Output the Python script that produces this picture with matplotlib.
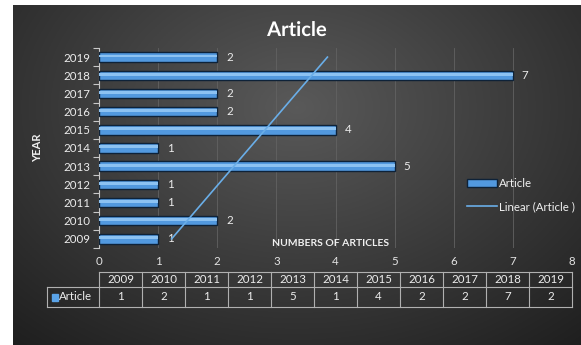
import numpy as np
import matplotlib.pyplot as plt
import matplotlib.patheffects as pe

plt.rcParams['font.family'] = ['Lato', 'DejaVu Sans']

years = ['2009', '2010', '2011', '2012', '2013', '2014', '2015', '2016', '2017', '2018', '2019']
articles = [1, 2, 1, 1, 5, 1, 4, 2, 2, 7, 2]
x_ticks = [0, 1, 2, 3, 4, 5, 6, 7, 8]

W, H = 581, 345
fs = 8.3
fig = plt.figure(figsize=(W / 100, H / 100), dpi=100)
fig.patch.set_facecolor('white')

# dark radial background (Excel chart style)
bg = fig.add_axes([13 / W, 0, 1 - 13 / W, 1 - 5 / H])
gx, gy = np.meshgrid(np.linspace(0, 1, 300), np.linspace(0, 1, 200))
r = np.sqrt(((gx - 0.5) / 0.7) ** 2 + ((gy - 0.3) / 0.85) ** 2)
shade = np.clip(0.35 - 0.21 * r, 0.11, 0.35)
bg.imshow(np.dstack([shade] * 3), aspect='auto', extent=[0, 1, 1, 0])
bg.axis('off')

# main bar chart
ax = fig.add_axes([99 / W, (H - 248) / H, 473 / W, 200 / H])
ax.set_facecolor('none')
ypos = np.arange(len(years))
bars = ax.barh(ypos, articles, height=0.52, color='#5299df', edgecolor='#0e2238', linewidth=1.0, zorder=3,
               label='Article')
ax.barh(ypos + 0.06, articles, height=0.16, color='#8cc2f2', linewidth=0, zorder=4)
for y, v in zip(ypos, articles):
    ax.text(v + 0.15, y, str(v), color='#ededed', fontsize=fs, va='center', ha='left', zorder=5)

# linear trendline like Excel
coef = np.polyfit(ypos + 1, articles, 1)
trend = np.polyval(coef, ypos + 1)
line, = ax.plot(trend, ypos, color='#6aaee8', linewidth=1.2, zorder=6, label='Linear (Article )')

ax.set_xlim(0, 8)
ax.set_ylim(-0.5, len(years) - 0.5)
ax.set_xticks(x_ticks)
ax.set_xticklabels([str(t) for t in x_ticks])
ax.tick_params(axis='x', length=0, pad=6, colors='#e3e3e3', labelsize=fs)
ax.set_yticks(ypos)
ax.set_yticklabels(years)
ax.tick_params(axis='y', length=0, pad=6, colors='#ededed', labelsize=fs)
ax.set_yticks(np.arange(-0.5, len(years)), minor=True)
ax.tick_params(axis='y', which='minor', length=4, color='#c8c8c8', width=0.8)
ax.grid(axis='x', color='#626262', linewidth=0.6, zorder=0)
for s in ['top', 'right', 'bottom']:
    ax.spines[s].set_visible(False)
ax.spines['left'].set_color('#c8c8c8')
ax.spines['left'].set_linewidth(0.8)

ax.text(0.49, 0.025, 'NUMBERS OF ARTICLES', transform=ax.transAxes, ha='center', va='center',
        color='#f0f0f0', fontsize=7.5, fontweight='bold')
fig.text(38 / W, 1 - 148 / H, 'YEAR', rotation=90, ha='center', va='center',
         color='#f0f0f0', fontsize=8, fontweight='bold')
fig.text(297 / W, 1 - 30 / H, 'Article', ha='center', va='center', color='white', fontsize=14.5,
         fontweight='bold', path_effects=[pe.withSimplePatchShadow(offset=(1, -1), alpha=0.8)])

ax.legend(handles=[bars, line], loc='upper left', bbox_to_anchor=(0.757, 0.4), frameon=False,
          fontsize=fs, handlelength=2.6, handletextpad=0.1, labelspacing=1.0, labelcolor='#f0f0f0')

# data table under the chart
tb = fig.add_axes([99 / W, (H - 307) / H, 473 / W, 35 / H])
tb.set_xlim(0, len(years))
tb.set_ylim(0, 35)
tb.axis('off')
lc = '#b0b0b0'
tb.plot([0, len(years)], [35, 35], color=lc, lw=0.8, clip_on=False)
tb.plot([-1.21, len(years)], [20, 20], color=lc, lw=0.8, clip_on=False)
tb.plot([-1.21, len(years)], [0, 0], color=lc, lw=0.8, clip_on=False)
tb.plot([-1.21, -1.21], [0, 20], color=lc, lw=0.8, clip_on=False)
for i in range(len(years) + 1):
    tb.plot([i, i], [0, 35], color=lc, lw=0.8, clip_on=False)
for i, (yr, v) in enumerate(zip(years, articles)):
    tb.text(i + 0.5, 27.5, yr, ha='center', va='center', color='#ededed', fontsize=fs)
    tb.text(i + 0.5, 10, str(v), ha='center', va='center', color='#ededed', fontsize=fs)
tb.add_patch(plt.Rectangle((-1.1, 6.5), 0.14, 7, color='#5aa3e8', clip_on=False))
tb.text(-0.93, 10, 'Article', ha='left', va='center', color='#ededed', fontsize=fs)

fig.savefig('out.png', dpi=100)
